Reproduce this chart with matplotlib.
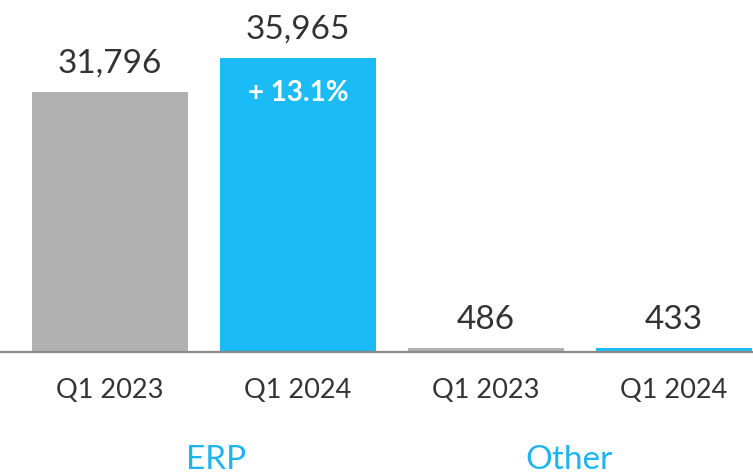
import matplotlib
matplotlib.use("Agg")
import matplotlib.pyplot as plt

categories = ["Q1 2023", "Q1 2024", "Q1 2023", "Q1 2024"]
values = [31796, 35965, 486, 433]
value_labels = ["31,796", "35,965", "486", "433"]
groups = ["ERP", "Other"]
growth_label = "+ 13.1%"

grey = "#b1b1b1"
blue = "#1bbcf5"
colors = [grey, blue, grey, blue]
text_col = "#333333"

plt.rcParams['font.family'] = ['Lato', 'DejaVu Sans']

fig = plt.figure(figsize=(7.53, 4.75), dpi=100)
ax = fig.add_axes([0, (475 - 352) / 475, 1, 352 / 475])

x = list(range(len(values)))
bars = ax.bar(x, values, width=0.83, color=colors)
ax.set_xlim(-0.584, 3.42)
ax.set_ylim(0, 43030)

for s in ["top", "left", "right"]:
    ax.spines[s].set_visible(False)
ax.spines["bottom"].set_color("#8c8784")
ax.spines["bottom"].set_linewidth(1.6)
ax.set_yticks([])
ax.set_xticks(x)
ax.set_xticklabels(categories, fontsize=19.5, color=text_col)
ax.tick_params(axis="x", length=0, pad=18.6)

for xi, v, lab in zip(x, values, value_labels):
    ax.annotate(lab, (xi, v), xytext=(0, 14), textcoords="offset points",
                ha="center", va="baseline", fontsize=24, color=text_col)

ax.annotate(growth_label, (1, values[1]), xytext=(0, -31), textcoords="offset points",
            ha="center", va="baseline", fontsize=20, fontweight="bold", color="white")

group_pos = [0.563, 2.443]
for gx, g in zip(group_pos, groups):
    ax.text(gx, -0.333, g, transform=ax.get_xaxis_transform(), ha="center", va="baseline",
            fontsize=24, color="#1fb4ee")

fig.savefig("out.png", dpi=100)
